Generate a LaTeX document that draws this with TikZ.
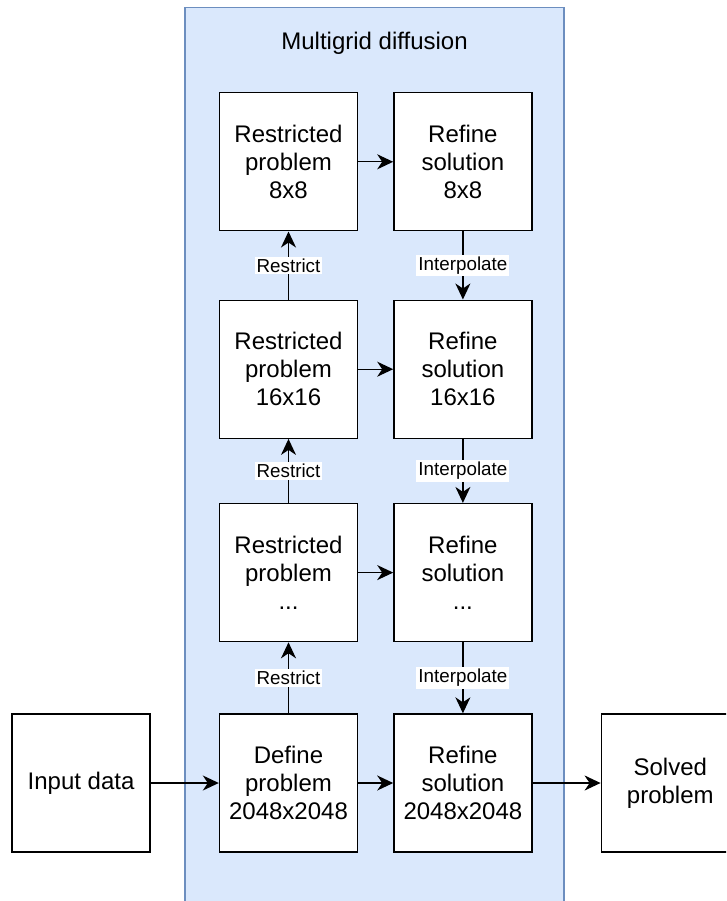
\documentclass[tikz,border=0pt]{standalone}
\usepackage{fontspec}
\setmainfont{Liberation Sans}
\usetikzlibrary{arrows.meta,positioning}
\definecolor{gridfill}{HTML}{DAE8FC}
\definecolor{griddraw}{HTML}{6C8EBF}
\begin{document}
\begin{tikzpicture}[x=1pt,y=-1pt,
node distance=68pt and 35pt,
blk/.style={draw,line width=1.4pt,fill=white,minimum width=138pt,minimum height=138pt,align=center,inner sep=2pt,font=\fontsize{24}{28}\selectfont},
lbl/.style={fill=white,inner sep=2pt,font=\fontsize{18.8}{21}\selectfont},
arr/.style={-{Stealth[length=16pt,width=15pt,inset=5pt]},line width=1.4pt}
]
\useasboundingbox (0,0) rectangle (726,901);
\clip (0,0) rectangle (726,901);
\node[draw=griddraw,fill=gridfill,line width=1.2pt,minimum width=379pt,minimum height=920pt,anchor=north] (grid) at (374.5,7) {};
\node[font=\fontsize{24}{28}\selectfont] (title) at (374.5,43) {Multigrid diffusion};
\node[blk] (def) at (288.5,783) {Define\\problem\\2048x2048};
\node[blk,right=of def] (ref) {Refine\\solution\\2048x2048};
\node[blk,left=68pt of def] (input) {Input data};
\node[blk,right=68pt of ref] (solved) {Solved\\problem};
\node[blk,above=71pt of def] (resn) {Restricted\\problem\\...};
\node[blk,right=of resn] (refn) {Refine\\solution\\...};
\node[blk,above=64pt of resn] (res16) {Restricted\\problem\\16x16};
\node[blk,right=of res16] (ref16) {Refine\\solution\\16x16};
\node[blk,above=of res16] (res8) {Restricted\\problem\\8x8};
\node[blk,right=of res8] (ref8) {Refine\\solution\\8x8};
\draw[arr] (input)--(def); \draw[arr] (ref)--(solved);
\draw[arr] (res8)--(ref8); \draw[arr] (res16)--(ref16); \draw[arr] (resn)--(refn); \draw[arr] (def)--(ref);
\draw[arr] (def)--node[lbl]{Restrict}(resn); \draw[arr] (resn)--node[lbl]{Restrict}(res16); \draw[arr] (res16)--node[lbl]{Restrict}(res8);
\draw[arr] (ref8)--node[lbl]{Interpolate}(ref16); \draw[arr] (ref16)--node[lbl]{Interpolate}(refn); \draw[arr] (refn)--node[lbl]{Interpolate}(ref);
\end{tikzpicture}
\end{document}
